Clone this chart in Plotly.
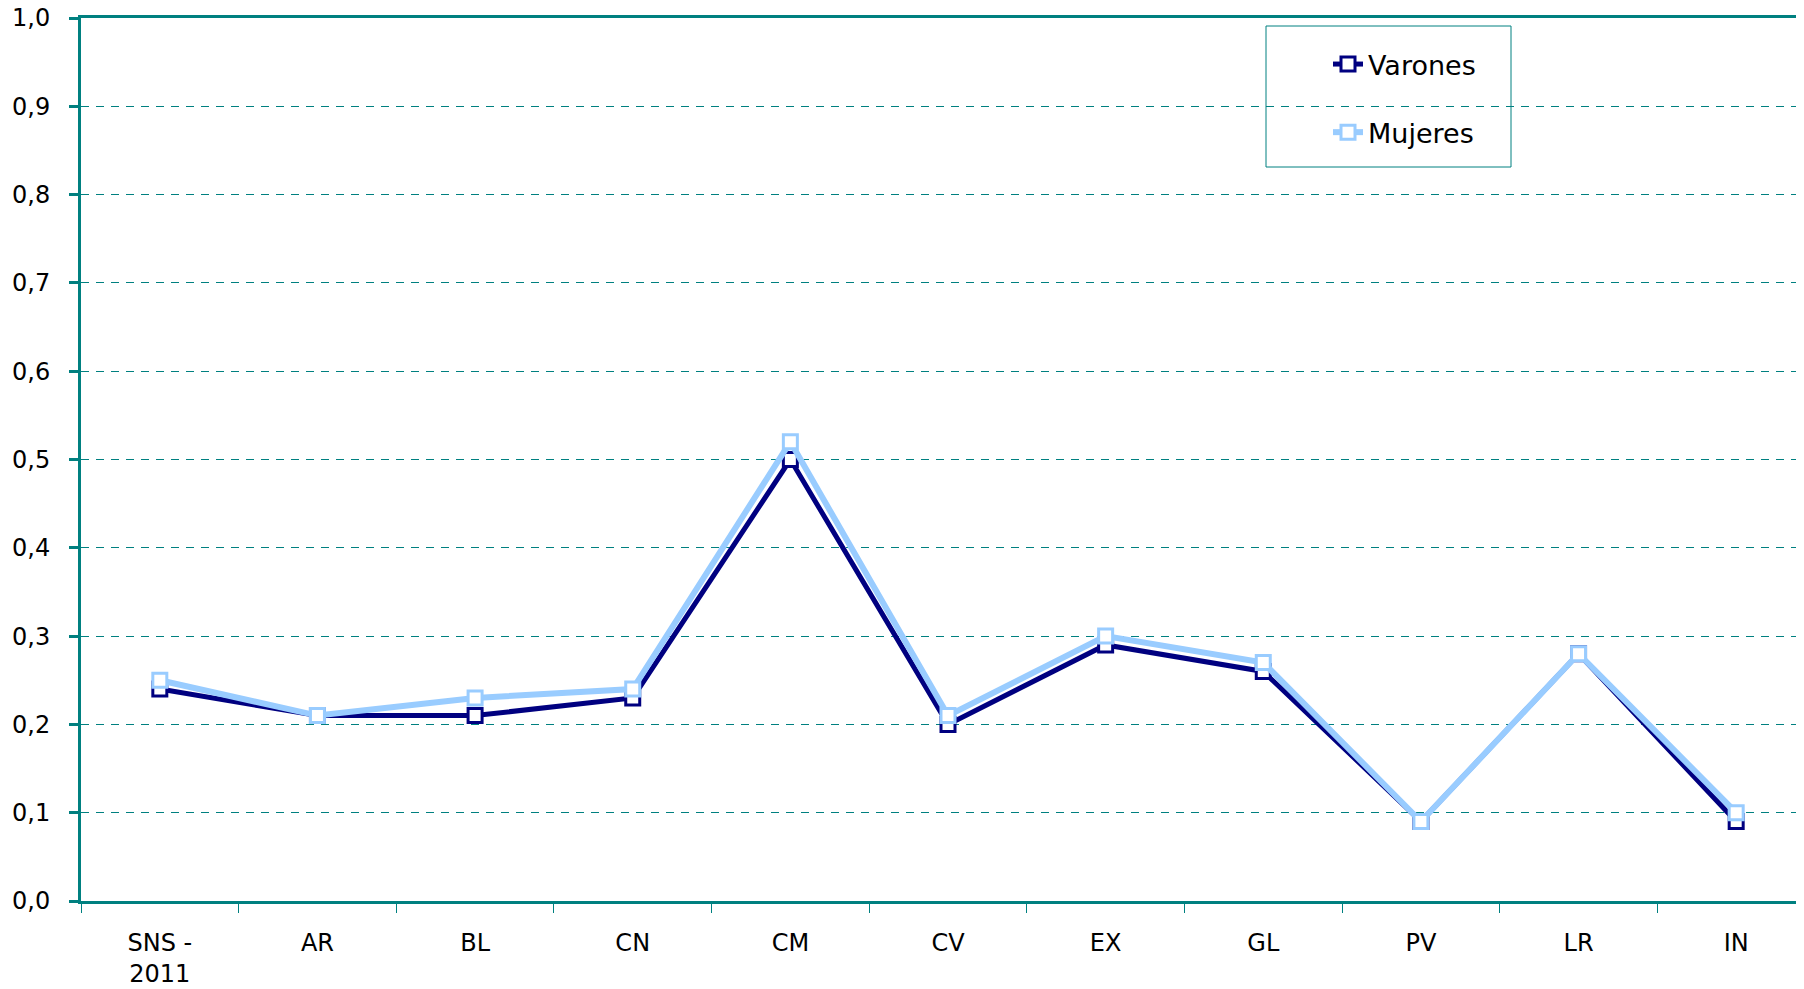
import plotly.graph_objects as go

categories = ["SNS -<br>2011", "AR", "BL", "CN", "CM", "CV", "EX", "GL", "PV", "LR", "IN"]
varones = [0.24, 0.21, 0.21, 0.23, 0.50, 0.20, 0.29, 0.26, 0.09, 0.28, 0.09]
mujeres = [0.25, 0.21, 0.23, 0.24, 0.52, 0.21, 0.30, 0.27, 0.09, 0.28, 0.10]

TEAL = "#008080"
FONT = "DejaVu Sans"

# page offset of the figure (body margin) and plot box in page pixels
OFF = 8
PL, PT, PB = 81, 18, 901
PR = 1812
PW, PH = PR - PL, PB - PT

fig = go.Figure()
fig.add_trace(go.Scatter(
    x=categories, y=varones, name="Varones", mode="lines+markers",
    legendgroup="v",
    line=dict(color="#000080", width=5),
    marker=dict(symbol="square", size=14, color="white", line=dict(color="#000080", width=3)),
))
fig.add_trace(go.Scatter(
    x=categories, y=mujeres, name="Mujeres", mode="lines+markers",
    legendgroup="m",
    line=dict(color="#99CCFF", width=6),
    marker=dict(symbol="square", size=14, color="white", line=dict(color="#99CCFF", width=3)),
))

# legend frame
fig.add_shape(
    type="rect", xref="x domain", yref="y domain", layer="below",
    x0=(1266 - PL) / PW, x1=(1511 - PL) / PW,
    y0=(PB - 167) / PH, y1=(PB - 26) / PH,
    line=dict(color=TEAL, width=1), fillcolor="white",
)

fig.update_layout(
    width=1804, height=989,
    margin=dict(l=PL - OFF, r=0, t=PT - OFF, b=989 - (PB - OFF), autoexpand=False),
    paper_bgcolor="white", plot_bgcolor="white",
    font=dict(family=FONT, size=24, color="black"),
    separators=",.",
    showlegend=True,
    legend=dict(
        x=(1328 - PL) / PW, y=(PB - 40) / PH, xanchor="left", yanchor="top",
        borderwidth=0, bgcolor="rgba(0,0,0,0)",
        font=dict(family=FONT, size=27, color="black"),
        tracegroupgap=30,
        traceorder="grouped",
    ),
    xaxis=dict(
        type="category", automargin=False,
        range=[-0.5, 10.5 - (1815 - PR) / 157.6],
        showline=True, linecolor=TEAL, linewidth=3, mirror=True,
        ticks="outside", tickson="boundaries", ticklen=9, tickcolor=TEAL, tickwidth=1,
        showgrid=False, zeroline=False,
        ticklabelstandoff=18,
        tickfont=dict(family=FONT, size=24, color="black"),
    ),
    yaxis=dict(
        range=[0, 1], dtick=0.1, tickformat=".1f", automargin=False,
        showline=True, linecolor=TEAL, linewidth=3,
        ticks="outside", ticklen=9, tickcolor=TEAL, tickwidth=3,
        showgrid=True, gridcolor=TEAL, gridwidth=1, griddash="8px,7px",
        zeroline=False,
        ticklabelstandoff=14,
        ticklabeloverflow="allow",
        tickfont=dict(family=FONT, size=24, color="black"),
    ),
)

fig.write_html("out.html")
